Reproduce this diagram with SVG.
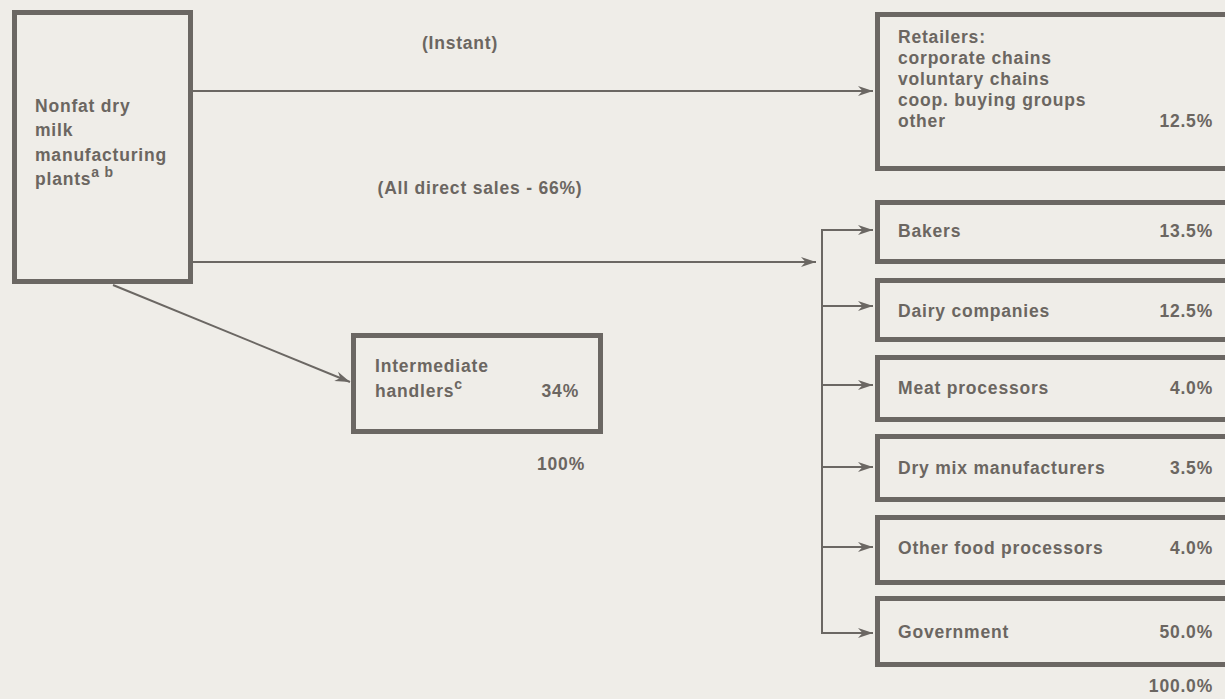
<svg xmlns="http://www.w3.org/2000/svg" width="1225" height="699" viewBox="0 0 1225 699">
<style>
.box{fill:none;stroke:#6b6763;stroke-width:5}
.ln{fill:none;stroke:#6b6763;stroke-width:2}
text{font-family:"Liberation Sans",Arial,sans-serif;font-weight:bold;font-size:17.5px;fill:#6b6661;letter-spacing:0.8px}
.r{text-anchor:end}
.sup{font-size:14px}
</style>
<defs>
<marker id="ah" markerUnits="userSpaceOnUse" markerWidth="16" markerHeight="12" refX="15" refY="6" orient="auto">
<path d="M0,1 L15,6 L0,11 L4.5,6 z" fill="#6b6763"/>
</marker>
</defs>
<rect width="1225" height="699" fill="#efede8"/>
<g id="connectors">
<line class="ln" x1="193" y1="91" x2="873" y2="91" marker-end="url(#ah)"/>
<line class="ln" x1="193" y1="262" x2="816" y2="262" marker-end="url(#ah)"/>
<line class="ln" x1="113" y1="285" x2="350" y2="382" marker-end="url(#ah)"/>
<polyline class="ln" points="822,230 822,633 873,633" marker-end="url(#ah)"/>
<line class="ln" x1="821" y1="230" x2="873" y2="230" marker-end="url(#ah)"/>
<line class="ln" x1="822" y1="306" x2="873" y2="306" marker-end="url(#ah)"/>
<line class="ln" x1="822" y1="385" x2="873" y2="385" marker-end="url(#ah)"/>
<line class="ln" x1="822" y1="467" x2="873" y2="467" marker-end="url(#ah)"/>
<line class="ln" x1="822" y1="547" x2="873" y2="547" marker-end="url(#ah)"/>
</g>
<g id="labels">
<text x="460" y="49" text-anchor="middle">(Instant)</text>
<text x="480" y="194" text-anchor="middle">(All direct sales - 66%)</text>
</g>
<g id="plants">
<rect class="box" x="14.5" y="12.5" width="176" height="269"/>
<text x="35" y="112">Nonfat dry</text>
<text x="35" y="136">milk</text>
<text x="35" y="161">manufacturing</text>
<text x="35" y="185">plants<tspan class="sup" dy="-8">a b</tspan></text>
</g>
<g id="intermediate">
<rect class="box" x="353.5" y="335.5" width="247" height="96"/>
<text x="375" y="372">Intermediate</text>
<text x="375" y="397">handlers<tspan class="sup" dy="-8">c</tspan></text>
<text class="r" x="579" y="397">34%</text>
<text class="r" x="585" y="470">100%</text>
</g>
<g id="retailers">
<rect class="box" x="877.5" y="14.5" width="400" height="154"/>
<text x="898" y="43">Retailers:</text>
<text x="898" y="64">corporate chains</text>
<text x="898" y="85">voluntary chains</text>
<text x="898" y="106">coop. buying groups</text>
<text x="898" y="127">other</text>
<text class="r" x="1213" y="127">12.5%</text>
</g>
<g id="bakers">
<rect class="box" x="877.5" y="202.5" width="400" height="59"/>
<text x="898" y="237">Bakers</text>
<text class="r" x="1213" y="237">13.5%</text>
</g>
<g id="dairy">
<rect class="box" x="877.5" y="280.5" width="400" height="59"/>
<text x="898" y="317">Dairy companies</text>
<text class="r" x="1213" y="317">12.5%</text>
</g>
<g id="meat">
<rect class="box" x="877.5" y="357.5" width="400" height="62"/>
<text x="898" y="394">Meat processors</text>
<text class="r" x="1213" y="394">4.0%</text>
</g>
<g id="drymix">
<rect class="box" x="877.5" y="436.5" width="400" height="63"/>
<text x="898" y="474">Dry mix manufacturers</text>
<text class="r" x="1213" y="474">3.5%</text>
</g>
<g id="otherfood">
<rect class="box" x="877.5" y="517.5" width="400" height="65"/>
<text x="898" y="554">Other food processors</text>
<text class="r" x="1213" y="554">4.0%</text>
</g>
<g id="government">
<rect class="box" x="877.5" y="598.5" width="400" height="66"/>
<text x="898" y="638">Government</text>
<text class="r" x="1213" y="638">50.0%</text>
<text class="r" x="1213" y="692">100.0%</text>
</g>
</svg>
